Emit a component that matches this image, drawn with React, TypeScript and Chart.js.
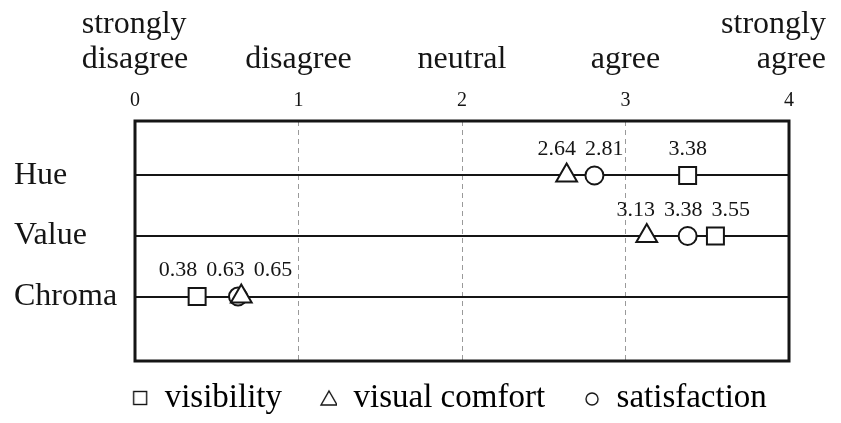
import React, { useEffect, useRef } from "react";
import { Chart, registerables } from "chart.js";

Chart.register(...registerables);

// ---- data ----
const rows = ["Hue", "Value", "Chroma"];
const rowPositions = [1, 2, 3];
const seriesNames = ["visibility", "visual comfort", "satisfaction"];
const visibility = [3.38, 3.55, 0.38];
const visualComfort = [2.64, 3.13, 0.65];
const satisfaction = [2.81, 3.38, 0.63];
const scaleTicks = [0, 1, 2, 3, 4];
const scaleLabels = [
  ["strongly", "disagree"],
  ["disagree"],
  ["neutral"],
  ["agree"],
  ["strongly", "agree"],
];

const SERIF = "'Liberation Serif', 'Times New Roman', serif";
const INK = "#151515";

function legendGlyph(kind: string, boxW: number): HTMLCanvasElement {
  const c = document.createElement("canvas");
  c.width = boxW;
  c.height = 20;
  const ctx = c.getContext("2d") as CanvasRenderingContext2D;
  ctx.strokeStyle = INK;
  ctx.lineWidth = 1.4;
  const cx = boxW - 8;
  const cy = 10;
  if (kind === "rect") {
    ctx.strokeRect(cx - 6.5, cy - 6.5, 13, 13);
  } else if (kind === "triangle") {
    ctx.beginPath();
    ctx.moveTo(cx, cy - 7);
    ctx.lineTo(cx + 8, cy + 7);
    ctx.lineTo(cx - 8, cy + 7);
    ctx.closePath();
    ctx.stroke();
  } else {
    ctx.beginPath();
    ctx.arc(cx, cy + 1, 6, 0, Math.PI * 2);
    ctx.stroke();
  }
  return c;
}

const framePlugin = {
  id: "frame",
  beforeDatasetsDraw(chart: any) {
    const { ctx, chartArea } = chart;
    ctx.save();
    ctx.strokeStyle = INK;
    ctx.lineWidth = 3;
    ctx.strokeRect(chartArea.left, chartArea.top, chartArea.right - chartArea.left, chartArea.bottom - chartArea.top);
    ctx.restore();
  },
};

const valueLabelPlugin = {
  id: "valueLabels",
  afterDatasetsDraw(chart: any) {
    const ctx = chart.ctx as CanvasRenderingContext2D;
    ctx.save();
    ctx.font = `22px ${SERIF}`;
    ctx.fillStyle = INK;
    ctx.textAlign = "center";
    ctx.textBaseline = "middle";
    const gap = 9;
    rows.forEach((_, r) => {
      const items: { x: number; y: number; text: string; w: number }[] = [];
      chart.data.datasets.forEach((ds: any, di: number) => {
        const meta = chart.getDatasetMeta(di);
        const el = meta.data[r];
        if (!el) return;
        const text = Number(ds.data[r].x).toFixed(2);
        items.push({ x: el.x, y: el.y, text, w: ctx.measureText(text).width });
      });
      items.sort((a, b) => a.x - b.x);
      let clusters = items.map((it) => [it]);
      const place = (cl: typeof items) => {
        const offs: number[] = [0];
        for (let k = 1; k < cl.length; k++) offs.push(offs[k - 1] + (cl[k - 1].w + cl[k].w) / 2 + gap);
        let s = 0;
        cl.forEach((it, k) => (s += it.x - offs[k]));
        s /= cl.length;
        return offs.map((o) => o + s);
      };
      let merged = true;
      while (merged) {
        merged = false;
        for (let c = 0; c < clusters.length - 1; c++) {
          const a = clusters[c], b = clusters[c + 1];
          const pa = place(a), pb = place(b);
          const la = a[a.length - 1], fb = b[0];
          if (pa[pa.length - 1] + (la.w + fb.w) / 2 + gap > pb[0]) {
            clusters.splice(c, 2, a.concat(b));
            merged = true;
            break;
          }
        }
      }
      clusters.forEach((cl) => {
        const pos = place(cl);
        cl.forEach((it, k) => ctx.fillText(it.text, pos[k], it.y - 26));
      });
    });
    ctx.restore();
  },
};

const topLabelPlugin = {
  id: "topLabels",
  afterDraw(chart: any) {
    const ctx = chart.ctx as CanvasRenderingContext2D;
    const xs = chart.scales.x;
    const edge = 7;
    ctx.save();
    ctx.font = `32px ${SERIF}`;
    ctx.fillStyle = INK;
    ctx.textBaseline = "middle";
    const lastLineY = xs.bottom - 61;
    const lineStep = 35;
    scaleLabels.forEach((lines, i) => {
      const px = xs.getPixelForValue(scaleTicks[i]);
      const w = Math.max(...lines.map((l) => ctx.measureText(l).width));
      const cx = Math.min(Math.max(px, w / 2 + edge), chart.width - w / 2 - edge);
      lines.forEach((line, j) => {
        const y = lastLineY - (lines.length - 1 - j) * lineStep;
        if (i === 0) {
          ctx.textAlign = "left";
          ctx.fillText(line, cx - w / 2, y);
        } else if (i === scaleLabels.length - 1) {
          ctx.textAlign = "right";
          ctx.fillText(line, cx + w / 2, y);
        } else {
          ctx.textAlign = "center";
          ctx.fillText(line, cx, y);
        }
      });
    });
    ctx.restore();
  },
};

const legendShiftPlugin = {
  id: "legendShift",
  afterLayout(chart: any, _args: any, opts: any) {
    const lg = chart.legend;
    if (!lg) return;
    lg.left += opts.dx || 0;
    lg.right += opts.dx || 0;
    lg.top += opts.dy || 0;
    lg.bottom += opts.dy || 0;
  },
};

export default function App() {
  const ref = useRef<HTMLCanvasElement | null>(null);

  useEffect(() => {
    if (!ref.current) return;
    const boxW = 44;
    const glyphs = [legendGlyph("rect", boxW), legendGlyph("triangle", boxW), legendGlyph("circle", boxW)];
    const mk = (vals: number[]) => rows.map((_, i) => ({ x: vals[i], y: rowPositions[i] }));
    const common = {
      backgroundColor: "#ffffff",
      borderColor: INK,
      borderWidth: 2,
      showLine: false,
    };
    const chart = new Chart(ref.current, {
      type: "scatter",
      data: {
        datasets: [
          { ...common, label: seriesNames[0], data: mk(visibility), pointStyle: "rect", pointRadius: 12, pointHoverRadius: 12 },
          { ...common, label: seriesNames[1], data: mk(visualComfort), pointStyle: "triangle", pointRadius: 12, pointHoverRadius: 12 },
          { ...common, label: seriesNames[2], data: mk(satisfaction), pointStyle: "circle", pointRadius: 9, pointHoverRadius: 9 },
        ],
      },
      options: {
        responsive: false,
        animation: false,
        events: [],
        layout: { padding: { left: 6, right: 44, top: 0, bottom: 0 } },
        scales: {
          x: {
            type: "linear",
            position: "top",
            min: 0,
            max: 4,
            afterBuildTicks: (s: any) => {
              s.ticks = scaleTicks.map((v) => ({ value: v }));
            },
            afterFit: (s: any) => {
              s.height = 113;
            },
            ticks: {
              font: { size: 20, family: SERIF },
              color: INK,
              padding: 8,
              callback: (v: any) => String(v),
            },
            grid: {
              drawTicks: false,
              lineWidth: 1,
              color: (c: any) => (c.tick && c.tick.value > 0 && c.tick.value < 4 ? "#9a9a9a" : "rgba(0,0,0,0)"),
            },
            border: { display: false, dash: [5, 4] },
          },
          y: {
            type: "linear",
            reverse: true,
            min: 0.1,
            max: 4.065,
            afterBuildTicks: (s: any) => {
              s.ticks = rowPositions.map((v) => ({ value: v }));
            },
            afterFit: (s: any) => {
              s.width = 121;
            },
            ticks: {
              font: { size: 32, family: SERIF },
              color: INK,
              crossAlign: "far",
              callback: (v: any) => rows[rowPositions.indexOf(Number(v))] ?? "",
            },
            grid: { drawTicks: false, lineWidth: 2, color: INK },
            border: { display: false },
          },
        },
        plugins: {
          tooltip: { enabled: false },
          legend: {
            position: "bottom",
            labels: {
              usePointStyle: true,
              pointStyleWidth: boxW,
              padding: 11,
              color: INK,
              font: { size: 33, family: SERIF },
              generateLabels: (ch: any) =>
                ch.data.datasets.map((ds: any, i: number) => ({
                  text: ds.label,
                  pointStyle: glyphs[i],
                  fillStyle: "rgba(0,0,0,0)",
                  strokeStyle: "rgba(0,0,0,0)",
                  lineWidth: 0,
                  hidden: false,
                  datasetIndex: i,
                })),
            },
          },
          legendShift: { dx: 34, dy: 9.5 },
        } as any,
      },
      plugins: [framePlugin, valueLabelPlugin, topLabelPlugin, legendShiftPlugin],
    } as any);
    return () => chart.destroy();
  }, []);

  return (
    <div style={{ width: 825, height: 407 }}>
      <canvas ref={ref} width={825} height={407} style={{ display: "block" }} />
    </div>
  );
}
